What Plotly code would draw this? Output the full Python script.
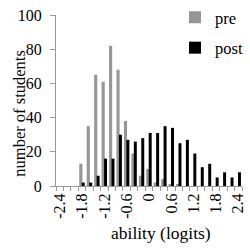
import plotly.graph_objects as go

# ---- data ----
bins = [-2.4, -2.2, -2.0, -1.8, -1.6, -1.4, -1.2, -1.0, -0.8, -0.6, -0.4, -0.2,
        0.0, 0.2, 0.4, 0.6, 0.8, 1.0, 1.2, 1.4, 1.6, 1.8, 2.0, 2.2, 2.4]
pre = [0, 0, 0, 13, 35, 65, 61, 82, 68, 38, 19, 6, 10, 2, 4, 1, 1, 0, 0, 0, 0, 0, 0, 0, 0]
post = [0, 0, 0, 2, 2, 6, 16, 16, 30, 27, 26, 28, 31, 31, 35, 34, 25, 27, 19, 11, 13, 5, 8, 5, 8]
x_tick_vals = [-2.4, -1.8, -1.2, -0.6, 0.0, 0.6, 1.2, 1.8, 2.4]
x_tick_text = ["-2.4", "-1.8", "-1.2", "-0.6", "0", "0.6", "1.2", "1.8", "2.4"]
y_tick_vals = [0, 20, 40, 60, 80, 100]
x_title = "ability (logits)"
y_title = "number of students"

FONT = "Liberation Serif, Times New Roman, serif"
AXIS_GRAY = "#9a9a9a"

fig = go.Figure()
fig.add_trace(go.Bar(x=bins, y=pre, name="pre", marker_color="#969696",
                     marker_line_width=0, width=0.084, offset=-0.074,
                     legendgroup="a"))
fig.add_trace(go.Bar(x=bins, y=post, name="post", marker_color="#000000",
                     marker_line_width=0, width=0.08, offset=-0.008,
                     legendgroup="b"))

fig.update_layout(
    width=250, height=250,
    margin=dict(l=56, r=8, t=15, b=64, autoexpand=False),
    barmode="overlay",
    plot_bgcolor="white", paper_bgcolor="white",
    font=dict(family=FONT, size=16, color="black"),
    showlegend=True,
    legend=dict(xref="container", yref="container", x=0.70, y=1.0,
                xanchor="left", yanchor="top",
                bgcolor="rgba(0,0,0,0)",
                font=dict(family=FONT, size=16.5, color="black"),
                tracegroupgap=6, itemwidth=30),
    annotations=[
        dict(text=y_title, xref="paper", yref="paper", x=-0.198, y=0.424,
             xanchor="center", yanchor="middle", textangle=-90, showarrow=False,
             font=dict(family=FONT, size=16.5, color="black")),
        dict(text=x_title, xref="paper", yref="paper", x=0.567, y=-0.275,
             xanchor="center", yanchor="middle", showarrow=False,
             font=dict(family=FONT, size=17.5, color="black")),
    ],
)
fig.update_xaxes(
    range=[-2.5, 2.5], automargin=False,
    tickmode="array", tickvals=x_tick_vals, ticktext=x_tick_text,
    tickangle=-90, ticks="",
    showline=True, linecolor=AXIS_GRAY, linewidth=1,
    showgrid=False, zeroline=False,
    minor=dict(tickmode="linear", tick0=-2.5, dtick=0.2, ticks="outside",
               ticklen=4, tickcolor=AXIS_GRAY, showgrid=False),
)
fig.update_yaxes(
    range=[0, 100], automargin=False,
    tickmode="array", tickvals=y_tick_vals,
    ticks="outside", ticklen=5, tickcolor=AXIS_GRAY,
    ticklabelstandoff=5,
    showline=True, linecolor=AXIS_GRAY, linewidth=1,
    showgrid=False, zeroline=False,
)

fig.write_html("out.html", config={"displayModeBar": False},
               post_script="document.body.style.margin='0';document.body.style.overflow='hidden';")
